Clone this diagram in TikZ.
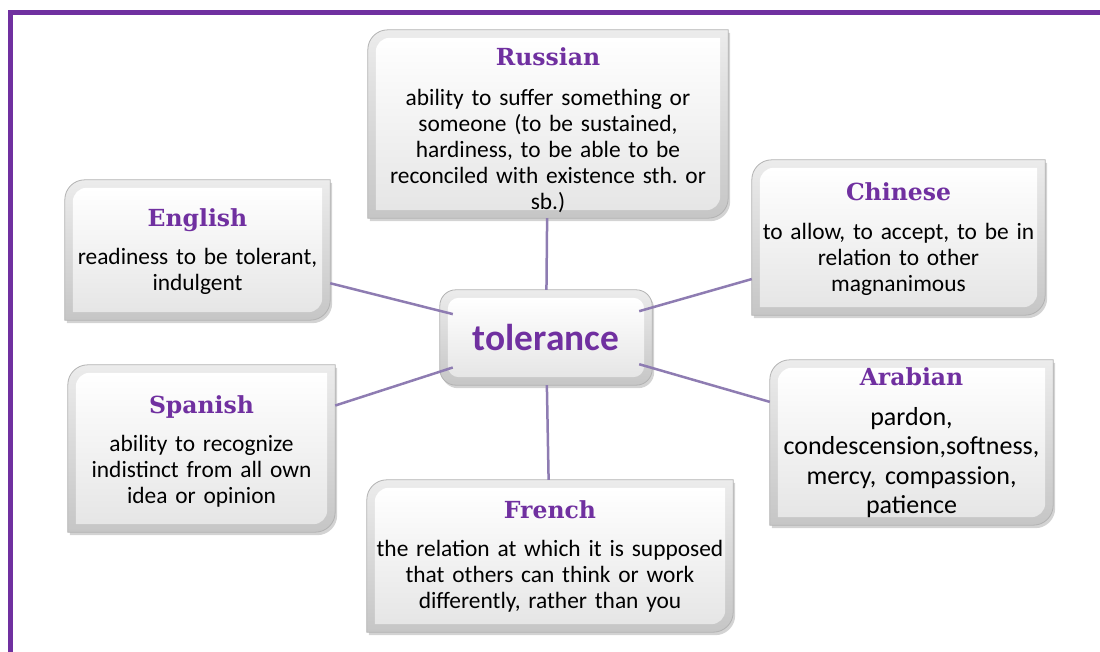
\documentclass[tikz,border=0pt]{standalone}
\usepackage{fontspec}
\setmainfont{Carlito}
\newfontfamily\titlefont{DejaVu Serif}
\usetikzlibrary{backgrounds,shadows}
\frenchspacing

\definecolor{violet}{RGB}{112,48,160}
\definecolor{linkcol}{RGB}{142,124,178}

\tikzset{
  langbox/.style={inner sep=0pt, align=center, text=black,
    font=\fontsize{23.4}{26}\selectfont},
  link/.style={linkcol, line width=2.5pt},
  rim/.style={draw=gray!60, line width=0.8pt, top color=gray!15, bottom color=gray!45,
    drop shadow={opacity=0.35, shadow xshift=2pt, shadow yshift=-3pt}},
  face/.style={top color=white, bottom color=gray!20}
}
% title of a box, optional strut pushes the text down
\newcommand{\lang}[2][0pt]{{\fontsize{23.5}{26}\selectfont\titlefont\bfseries\color{violet}\rule{0pt}{#1}#2}}

% box with two rounded corners (top left, bottom right)
\newcommand{\bevelbox}[1]{%
  \path[rim] (#1.south west) -- ([yshift=-20pt]#1.north west)
    arc[start angle=180, end angle=90, radius=20pt] -- (#1.north east)
    -- ([yshift=20pt]#1.south east)
    arc[start angle=0, end angle=-90, radius=20pt] -- cycle;
  \path[face] ([xshift=8pt,yshift=8pt]#1.south west) -- ([xshift=8pt,yshift=-22pt]#1.north west)
    arc[start angle=180, end angle=90, radius=14pt] -- ([xshift=-8pt,yshift=-8pt]#1.north east)
    -- ([xshift=-8pt,yshift=22pt]#1.south east)
    arc[start angle=0, end angle=-90, radius=14pt] -- cycle;
}

\begin{document}
\begin{tikzpicture}[x=1pt, y=-1pt]
    \useasboundingbox (0,0) rectangle (1100,652);
    \clip (0,0) rectangle (1100,652);

    % centre
    \node[inner sep=0pt, minimum width=186pt, minimum height=95pt,
      font=\fontsize{37.4}{40}\selectfont\bfseries, text=violet] (tol) at (546,337.5) {tolerance};

    \node[langbox, minimum width=360pt, minimum height=188pt, text width=350pt] (rus) at (548,124)
      {\lang[30pt]{Russian}\\[14pt] ability to suffer something or\\ someone (to be sustained,\\
       hardiness, to be able to be\\ reconciled with existence sth. or\\ sb.)};
    \node[langbox, minimum width=293pt, minimum height=155pt, text width=287pt] (chi) at (898.5,237.5)
      {\lang[22pt]{Chinese}\\[13pt] to allow, to accept, to be in\\ relation to other\\ magnanimous};
    \node[langbox, minimum width=265pt, minimum height=140pt, text width=259pt] (eng) at (197.5,250)
      {\lang[22pt]{English}\\[12pt] readiness to be tolerant,\\ indulgent};
    \node[langbox, minimum width=267pt, minimum height=167pt, text width=259pt] (spa) at (201.5,448.5)
      {\lang[24pt]{Spanish}\\[12pt] ability to recognize\\ indistinct from all own\\ idea or opinion};
    \node[langbox, minimum width=283pt, minimum height=165pt, text width=279pt,
      font=\fontsize{26}{29.5}\selectfont] (ara) at (911.5,442.5)
      {{\fontsize{23.5}{29.5}\selectfont\lang{Arabian}}\\[10.5pt] pardon,\\ condescension,softness,\\
       mercy, compassion,\\ patience};
    \node[langbox, minimum width=366pt, minimum height=152pt, text width=360pt] (fre) at (550,556)
      {\lang{French}\\[12pt] the relation at which it is supposed\\ that others can think or work\\
       differently, rather than you};

    \begin{scope}[on background layer]
      \draw[violet, line width=5pt] (10.5,12.5) rectangle (1130,690);
      \foreach \n in {rus,chi,eng,spa,ara,fre}
        \bevelbox{\n};
      \path[rim, rounded corners=16pt] ([xshift=-13pt]tol.south west) rectangle ([xshift=13pt]tol.north east);
      \path[face, rounded corners=11pt] ([xshift=-5pt,yshift=8pt]tol.south west) rectangle ([xshift=5pt,yshift=-8pt]tol.north east);
    \end{scope}

    \foreach \n in {rus,chi,eng,spa,ara,fre}
      \draw[link] (\n) -- (tol);
\end{tikzpicture}
\end{document}
